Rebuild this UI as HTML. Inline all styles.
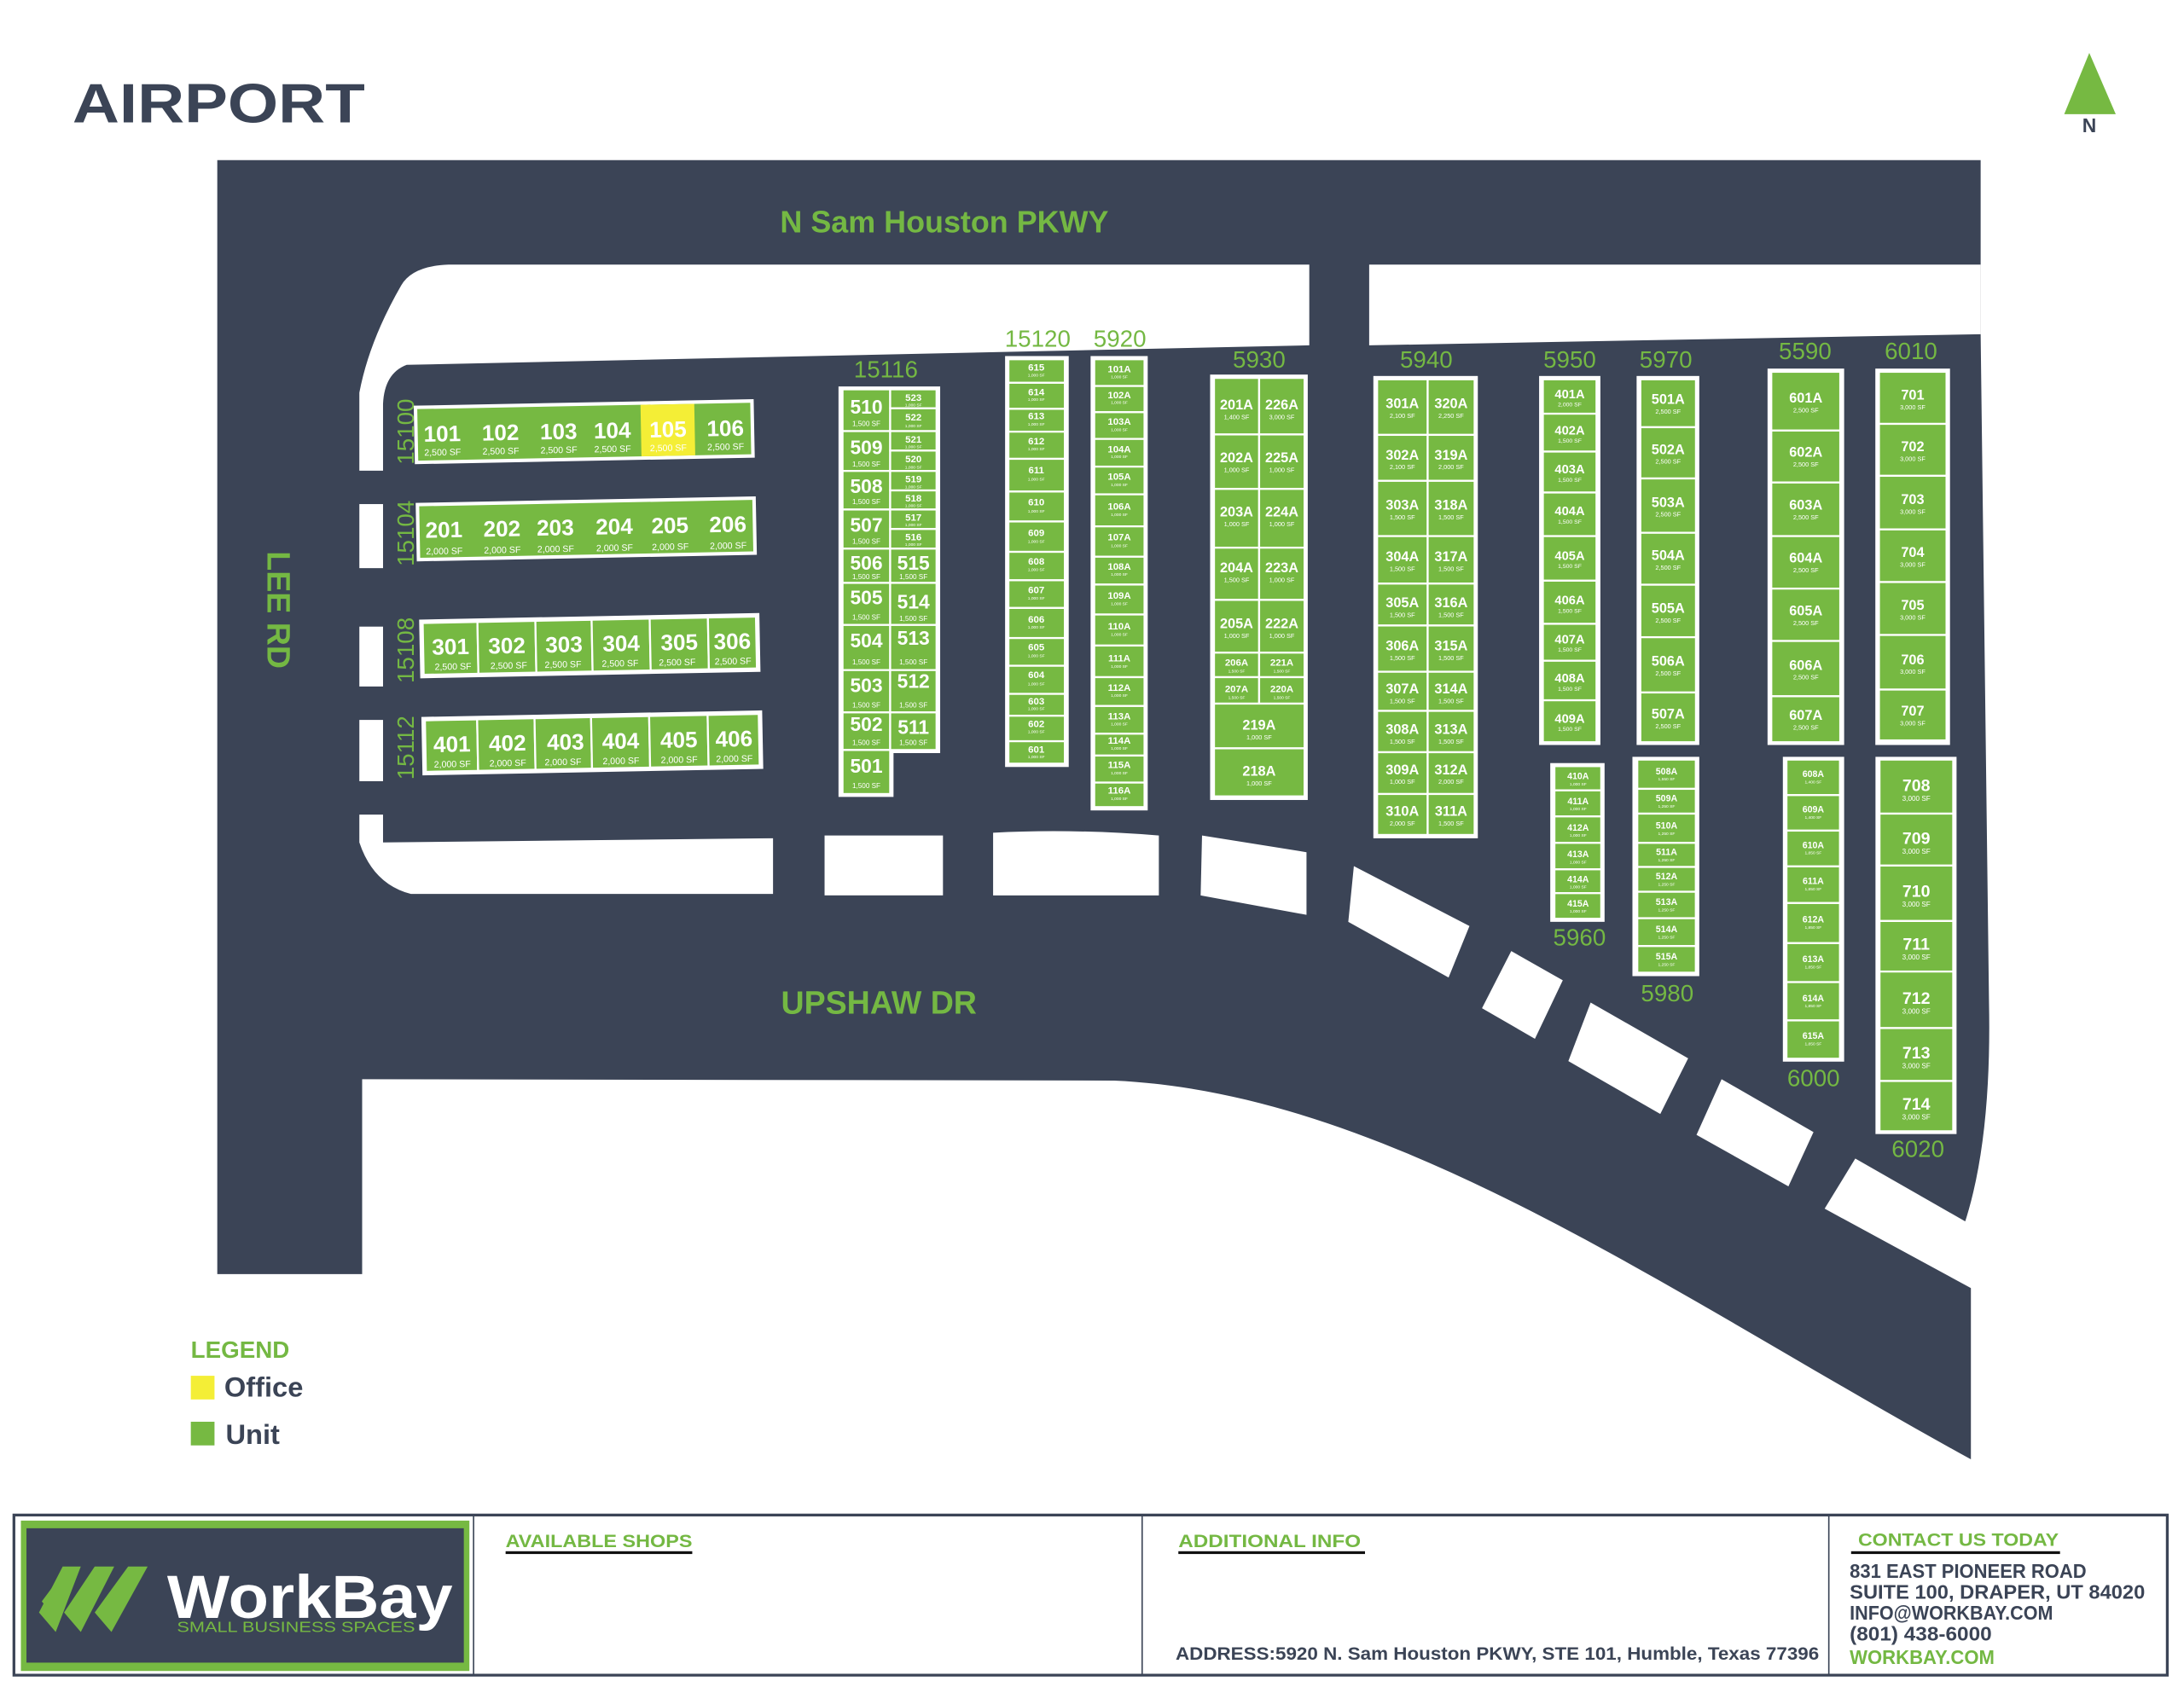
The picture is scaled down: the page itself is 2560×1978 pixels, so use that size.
<!DOCTYPE html>
<html><head><meta charset="utf-8"><style>
html,body{margin:0;padding:0;background:#fff;}
svg{display:block}
.c{fill:#76b942;stroke:#fff;stroke-width:1.4}
.o{fill:#fff}
.n{font-family:"Liberation Sans Narrow","Liberation Sans",sans-serif;font-weight:bold;fill:#fff;text-anchor:middle;font-stretch:condensed}
.s{font-family:"Liberation Sans Narrow","Liberation Sans",sans-serif;fill:#fff;text-anchor:middle;font-stretch:condensed}
.bl{font-family:"Liberation Sans",sans-serif;fill:#74b843;text-anchor:middle}
.f{font-family:"Liberation Sans Narrow","Liberation Sans",sans-serif;font-weight:bold}
</style></head><body>
<svg width="2560" height="1978" viewBox="0 0 1568 1211.5" preserveAspectRatio="none" xmlns="http://www.w3.org/2000/svg">
<rect width="1568" height="1212" fill="#fff"/>
<text x="52" y="88" font-family="Liberation Sans,sans-serif" font-weight="bold" font-size="40" fill="#3b4456" textLength="210" lengthAdjust="spacingAndGlyphs">AIRPORT</text>
<polygon points="1500,38 1519,82 1482,82" fill="#76b942"/>
<text x="1500" y="95" font-family="Liberation Sans,sans-serif" font-weight="bold" font-size="14" fill="#3b4456" text-anchor="middle">N</text>

<!-- dark roads -->
<path d="M156,115 L1422,115 L1422,240 L1428,720 Q1430,820 1410,880 L1415,925 L1415,1048 C1200,930 1000,785 800,776 L260,775 L260,915 L156,915 Z" fill="#3b4456"/>
<path d="M258,338 L258,282 Q265,245 288,205 Q296,191 322,190 L940,190 L940,248 L292,262 Q276,268 275,290 L275,338 Z" class="o"/>
<path d="M983,190 L1422,190 L1422,240 L983,248 Z" class="o"/>
<rect x="258" y="362" width="17" height="46" class="o"/>
<rect x="258" y="450" width="17" height="43" class="o"/>
<rect x="258" y="517" width="17" height="44" class="o"/>
<path d="M258,585 L275,585 L275,605 L555,602 L555,642 L295,642 Q268,635 258,605 Z" class="o"/>
<rect x="592" y="600" width="85" height="43" class="o"/>
<path d="M713,598 Q770,595 832,600 L832,643 L713,643 Z" class="o"/>
<polygon points="863,600 938,612 938,657 862,643" class="o"/>
<polygon points="972,622 1055,665 1040,702 968,662" class="o"/>
<polygon points="1085,683 1122,704 1102,746 1064,724" class="o"/>
<polygon points="1142,720 1212,760 1192,800 1126,762" class="o"/>
<polygon points="1236,775 1302,813 1284,852 1218,815" class="o"/>
<polygon points="1332,832 1430,888 1430,930 1415,925 1310,868" class="o"/>

<text x="678" y="167" font-family="Liberation Sans,sans-serif" font-weight="bold" font-size="22" fill="#74b843" text-anchor="middle">N Sam Houston PKWY</text>
<text x="631" y="728" font-family="Liberation Sans,sans-serif" font-weight="bold" font-size="23" fill="#74b843" text-anchor="middle">UPSHAW DR</text>
<text transform="translate(192,438) rotate(90)" font-family="Liberation Sans,sans-serif" font-weight="bold" font-size="23" fill="#74b843" text-anchor="middle">LEE RD</text>

<g class="bl" font-size="17">
<text transform="translate(297,310) rotate(-90)">15100</text>
<text transform="translate(297,383) rotate(-90)">15104</text>
<text transform="translate(297,467) rotate(-90)">15108</text>
<text transform="translate(297,537) rotate(-90)">15112</text>
<text x="636" y="271">15116</text><text x="745" y="249">15120</text><text x="804" y="249">5920</text>
<text x="904" y="264">5930</text><text x="1024" y="264">5940</text><text x="1127" y="264">5950</text>
<text x="1196" y="264">5970</text><text x="1296" y="258">5590</text><text x="1372" y="258">6010</text>
<text x="1134" y="679">5960</text><text x="1197" y="719">5980</text><text x="1302" y="780">6000</text><text x="1377" y="831">6020</text>
</g>

<!-- Row 100 -->
<g transform="rotate(-1.1 419.5 310)">
<rect x="297.4" y="289" width="244.1" height="42" class="o"/>
<rect x="299.9" y="291.5" width="239.1" height="37" fill="#76b942"/>
<rect x="460.2" y="291.5" width="38.6" height="37" fill="#f4ee36"/>
<g class="n" font-size="16"><text x="317.5" y="315">101</text><text x="359.3" y="315">102</text><text x="401" y="315">103</text><text x="439.6" y="315">104</text><text x="479.6" y="315">105</text><text x="520.8" y="315">106</text></g>
<g class="s" font-size="6.5"><text x="317.5" y="325">2,500 SF</text><text x="359.3" y="325">2,500 SF</text><text x="401" y="325">2,500 SF</text><text x="439.6" y="325">2,500 SF</text><text x="479.6" y="325">2,500 SF</text><text x="520.8" y="325">2,500 SF</text></g>
</g>
<!-- Row 200 -->
<g transform="rotate(-1.1 420.9 379.8)">
<rect x="298.8" y="358.8" width="244.2" height="42" class="o"/>
<rect x="301.3" y="361.3" width="239.2" height="37" fill="#76b942"/>
<g class="n" font-size="16"><text x="318.7" y="384">201</text><text x="360.4" y="384">202</text><text x="398.7" y="384">203</text><text x="441" y="384">204</text><text x="481" y="384">205</text><text x="522.6" y="384">206</text></g>
<g class="s" font-size="6.5"><text x="318.7" y="396">2,000 SF</text><text x="360.4" y="396">2,000 SF</text><text x="398.7" y="396">2,000 SF</text><text x="441" y="396">2,000 SF</text><text x="481" y="396">2,000 SF</text><text x="522.6" y="396">2,000 SF</text></g>
</g>
<!-- Row 300 -->
<g transform="rotate(-1.1 423.5 463.7)">
<rect x="301.3" y="442.6" width="244.3" height="42.2" class="o"/>
<rect x="303.8" y="445.1" width="39.3" height="37.2" class="c"/><rect x="343.1" y="445.1" width="41.6" height="37.2" class="c"/><rect x="384.7" y="445.1" width="40.4" height="37.2" class="c"/><rect x="425.1" y="445.1" width="41.7" height="37.2" class="c"/><rect x="466.8" y="445.1" width="41.8" height="37.2" class="c"/><rect x="508.6" y="445.1" width="34.5" height="37.2" class="c"/>
<g class="n" font-size="16"><text x="323.5" y="468">301</text><text x="363.9" y="468">302</text><text x="404.9" y="468">303</text><text x="446" y="468">304</text><text x="487.7" y="468">305</text><text x="525.8" y="468">306</text></g>
<g class="s" font-size="6.5"><text x="325" y="479">2,500 SF</text><text x="365" y="479">2,500 SF</text><text x="404" y="479">2,500 SF</text><text x="445" y="479">2,500 SF</text><text x="486" y="479">2,500 SF</text><text x="526" y="479">2,500 SF</text></g>
</g>
<!-- Row 400 -->
<g transform="rotate(-1.1 425.2 533.5)">
<rect x="302.9" y="512.5" width="244.7" height="42" class="o"/>
<rect x="305.4" y="515" width="37.5" height="37" class="c"/><rect x="342.9" y="515" width="41.2" height="37" class="c"/><rect x="384.1" y="515" width="40.6" height="37" class="c"/><rect x="424.7" y="515" width="41.7" height="37" class="c"/><rect x="466.4" y="515" width="42" height="37" class="c"/><rect x="508.4" y="515" width="36.7" height="37" class="c"/>
<g class="n" font-size="16"><text x="324.5" y="538">401</text><text x="364.3" y="538">402</text><text x="406" y="538">403</text><text x="445.6" y="538">404</text><text x="487.4" y="538">405</text><text x="527" y="538">406</text></g>
<g class="s" font-size="6.5"><text x="324.5" y="549">2,000 SF</text><text x="364.3" y="549">2,000 SF</text><text x="404" y="549">2,000 SF</text><text x="445.6" y="549">2,000 SF</text><text x="487.4" y="549">2,000 SF</text><text x="527" y="549">2,000 SF</text></g>
</g>

<!-- 15116 -->
<polygon points="602,277.5 675,277.5 675,540.8 641.5,540.8 641.5,572.3 602,572.3" class="o"/>
<g>
<rect x="604.9" y="279.6" width="34.2" height="30" class="c"/><rect x="604.9" y="309.6" width="34.2" height="28.6" class="c"/><rect x="604.9" y="338.2" width="34.2" height="27.7" class="c"/><rect x="604.9" y="365.9" width="34.2" height="28.1" class="c"/><rect x="604.9" y="394" width="34.2" height="24.6" class="c"/><rect x="604.9" y="418.6" width="34.2" height="30.2" class="c"/><rect x="604.9" y="448.8" width="34.2" height="32.4" class="c"/><rect x="604.9" y="481.2" width="34.2" height="30.4" class="c"/><rect x="604.9" y="511.6" width="34.2" height="27" class="c"/><rect x="604.9" y="538.6" width="34.2" height="31.6" class="c"/>
<rect x="639.1" y="279.6" width="33.3" height="13.6" class="c"/><rect x="639.1" y="293.2" width="33.3" height="16.4" class="c"/><rect x="639.1" y="309.6" width="33.3" height="14" class="c"/><rect x="639.1" y="323.6" width="33.3" height="14.6" class="c"/><rect x="639.1" y="338.2" width="33.3" height="14" class="c"/><rect x="639.1" y="352.2" width="33.3" height="13.7" class="c"/><rect x="639.1" y="365.9" width="33.3" height="14" class="c"/><rect x="639.1" y="379.9" width="33.3" height="14.1" class="c"/><rect x="639.1" y="394" width="33.3" height="24.6" class="c"/><rect x="639.1" y="418.6" width="33.3" height="30.2" class="c"/><rect x="639.1" y="448.8" width="33.3" height="32.4" class="c"/><rect x="639.1" y="481.2" width="33.3" height="30.4" class="c"/><rect x="639.1" y="511.6" width="33.3" height="27" class="c"/>
</g>
<g class="n" font-size="14"><text x="622" y="297">510</text><text x="622" y="326">509</text><text x="622" y="354">508</text><text x="622" y="382">507</text><text x="622" y="409">506</text><text x="622" y="434">505</text><text x="622" y="465">504</text><text x="622" y="497">503</text><text x="622" y="525">502</text><text x="622" y="555">501</text>
<text x="655.8" y="409">515</text><text x="655.8" y="437">514</text><text x="655.8" y="463">513</text><text x="655.8" y="494">512</text><text x="655.8" y="527">511</text></g>
<g class="s" font-size="5"><text x="622" y="306">1,500 SF</text><text x="622" y="335">1,500 SF</text><text x="622" y="362">1,500 SF</text><text x="622" y="390.5">1,500 SF</text><text x="622" y="416">1,500 SF</text><text x="622" y="445">1,500 SF</text><text x="622" y="477">1,500 SF</text><text x="622" y="508">1,500 SF</text><text x="622" y="535">1,500 SF</text><text x="622" y="566">1,500 SF</text>
<text x="655.8" y="416">1,500 SF</text><text x="655.8" y="446">1,500 SF</text><text x="655.8" y="477">1,500 SF</text><text x="655.8" y="508">1,500 SF</text><text x="655.8" y="535">1,500 SF</text></g>
<g class="n" font-size="7"><text x="655.8" y="288">523</text><text x="655.8" y="302">522</text><text x="655.8" y="318">521</text><text x="655.8" y="332">520</text><text x="655.8" y="346.5">519</text><text x="655.8" y="360">518</text><text x="655.8" y="374">517</text><text x="655.8" y="388">516</text></g>
<g class="s" font-size="3"><text x="655.8" y="292">1,000 SF</text><text x="655.8" y="307">1,000 SF</text><text x="655.8" y="322">1,000 SF</text><text x="655.8" y="336.5">1,000 SF</text><text x="655.8" y="350.5">1,000 SF</text><text x="655.8" y="364">1,000 SF</text><text x="655.8" y="378">1,000 SF</text><text x="655.8" y="392">1,000 SF</text></g>

<!-- 15120 -->
<rect x="721.6" y="255.7" width="45.7" height="295.1" class="o"/>
<g>
<rect x="724" y="258" width="40.5" height="16.9" class="c"/><rect x="724" y="274.9" width="40.5" height="18.7" class="c"/><rect x="724" y="293.6" width="40.5" height="16.4" class="c"/><rect x="724" y="310" width="40.5" height="19.5" class="c"/><rect x="724" y="329.5" width="40.5" height="23.5" class="c"/><rect x="724" y="353" width="40.5" height="21.5" class="c"/><rect x="724" y="374.5" width="40.5" height="21.8" class="c"/><rect x="724" y="396.3" width="40.5" height="20.4" class="c"/><rect x="724" y="416.7" width="40.5" height="19.9" class="c"/><rect x="724" y="436.6" width="40.5" height="21.6" class="c"/><rect x="724" y="458.2" width="40.5" height="19.9" class="c"/><rect x="724" y="478.1" width="40.5" height="20.2" class="c"/><rect x="724" y="498.3" width="40.5" height="15.7" class="c"/><rect x="724" y="514" width="40.5" height="18.3" class="c"/><rect x="724" y="532.3" width="40.5" height="16.1" class="c"/>
</g>
<g class="n" font-size="7"><text x="744" y="266">615</text><text x="744" y="284">614</text><text x="744" y="301">613</text><text x="744" y="319">612</text><text x="744" y="340">611</text><text x="744" y="363">610</text><text x="744" y="385">609</text><text x="744" y="405.5">608</text><text x="744" y="426">607</text><text x="744" y="447">606</text><text x="744" y="467">605</text><text x="744" y="487">604</text><text x="744" y="506">603</text><text x="744" y="522">602</text><text x="744" y="540.5">601</text></g>
<g class="s" font-size="3"><text x="744" y="270.5">1,000 SF</text><text x="744" y="288">1,000 SF</text><text x="744" y="305.5">1,000 SF</text><text x="744" y="323.5">1,000 SF</text><text x="744" y="345">1,000 SF</text><text x="744" y="368">1,000 SF</text><text x="744" y="390">1,000 SF</text><text x="744" y="410">1,000 SF</text><text x="744" y="430.5">1,000 SF</text><text x="744" y="451.5">1,000 SF</text><text x="744" y="472">1,000 SF</text><text x="744" y="492">1,000 SF</text><text x="744" y="510">1,000 SF</text><text x="744" y="526.5">1,000 SF</text><text x="744" y="544.5">1,000 SF</text></g>

<!-- 5920 -->
<rect x="783" y="255.7" width="41" height="326.3" class="o"/>
<g>
<rect x="785.6" y="258" width="36.1" height="19.2" class="c"/><rect x="785.6" y="277.2" width="36.1" height="18.8" class="c"/><rect x="785.6" y="296" width="36.1" height="19.2" class="c"/><rect x="785.6" y="315.2" width="36.1" height="19.9" class="c"/><rect x="785.6" y="335.1" width="36.1" height="19.9" class="c"/><rect x="785.6" y="355" width="36.1" height="23" class="c"/><rect x="785.6" y="378" width="36.1" height="21.8" class="c"/><rect x="785.6" y="399.8" width="36.1" height="20" class="c"/><rect x="785.6" y="419.8" width="36.1" height="21.5" class="c"/><rect x="785.6" y="441.3" width="36.1" height="22.3" class="c"/><rect x="785.6" y="463.6" width="36.1" height="22.7" class="c"/><rect x="785.6" y="486.3" width="36.1" height="20.7" class="c"/><rect x="785.6" y="507" width="36.1" height="19.9" class="c"/><rect x="785.6" y="526.9" width="36.1" height="15.7" class="c"/><rect x="785.6" y="542.6" width="36.1" height="19.4" class="c"/><rect x="785.6" y="562" width="36.1" height="17.6" class="c"/>
</g>
<g class="n" font-size="7"><text x="803.6" y="267.5">101A</text><text x="803.6" y="286">102A</text><text x="803.6" y="305">103A</text><text x="803.6" y="325">104A</text><text x="803.6" y="344.5">105A</text><text x="803.6" y="366">106A</text><text x="803.6" y="388">107A</text><text x="803.6" y="409">108A</text><text x="803.6" y="430">109A</text><text x="803.6" y="452">110A</text><text x="803.6" y="475">111A</text><text x="803.6" y="496">112A</text><text x="803.6" y="516.5">113A</text><text x="803.6" y="534">114A</text><text x="803.6" y="551.5">115A</text><text x="803.6" y="570">116A</text></g>
<g class="s" font-size="3"><text x="803.6" y="271.5">1,000 SF</text><text x="803.6" y="290">1,000 SF</text><text x="803.6" y="309.5">1,000 SF</text><text x="803.6" y="329">1,000 SF</text><text x="803.6" y="349">1,000 SF</text><text x="803.6" y="370.5">1,000 SF</text><text x="803.6" y="393">1,000 SF</text><text x="803.6" y="413.5">1,000 SF</text><text x="803.6" y="434.5">1,000 SF</text><text x="803.6" y="456.5">1,000 SF</text><text x="803.6" y="479.5">1,000 SF</text><text x="803.6" y="500.5">1,000 SF</text><text x="803.6" y="521">1,000 SF</text><text x="803.6" y="538.5">1,000 SF</text><text x="803.6" y="556">1,000 SF</text><text x="803.6" y="574.5">1,000 SF</text></g>

<!-- 5930 -->
<rect x="868.8" y="269" width="70.1" height="305.5" class="o"/>
<g>
<rect x="871.6" y="271.4" width="32.4" height="40.6" class="c"/><rect x="904" y="271.4" width="32.6" height="40.6" class="c"/>
<rect x="871.6" y="312" width="32.4" height="39.1" class="c"/><rect x="904" y="312" width="32.6" height="39.1" class="c"/>
<rect x="871.6" y="351.1" width="32.4" height="42.2" class="c"/><rect x="904" y="351.1" width="32.6" height="42.2" class="c"/>
<rect x="871.6" y="393.3" width="32.4" height="37.5" class="c"/><rect x="904" y="393.3" width="32.6" height="37.5" class="c"/>
<rect x="871.6" y="430.8" width="32.4" height="37.9" class="c"/><rect x="904" y="430.8" width="32.6" height="37.9" class="c"/>
<rect x="871.6" y="468.7" width="32.4" height="17.6" class="c"/><rect x="904" y="468.7" width="32.6" height="17.6" class="c"/>
<rect x="871.6" y="486.3" width="32.4" height="19" class="c"/><rect x="904" y="486.3" width="32.6" height="19" class="c"/>
<rect x="871.6" y="505.3" width="65" height="32.1" class="c"/><rect x="871.6" y="537.4" width="65" height="34.5" class="c"/>
</g>
<g class="n" font-size="10"><text x="887.8" y="294">201A</text><text x="920.3" y="294">226A</text><text x="887.8" y="332">202A</text><text x="920.3" y="332">225A</text><text x="887.8" y="371">203A</text><text x="920.3" y="371">224A</text><text x="887.8" y="411">204A</text><text x="920.3" y="411">223A</text><text x="887.8" y="451">205A</text><text x="920.3" y="451">222A</text><text x="904" y="524">219A</text><text x="904" y="557">218A</text></g>
<g class="s" font-size="4.5"><text x="887.8" y="301">1,400 SF</text><text x="920.3" y="301">3,000 SF</text><text x="887.8" y="339">1,000 SF</text><text x="920.3" y="339">1,000 SF</text><text x="887.8" y="378">1,000 SF</text><text x="920.3" y="378">1,000 SF</text><text x="887.8" y="418">1,500 SF</text><text x="920.3" y="418">1,000 SF</text><text x="887.8" y="458">1,000 SF</text><text x="920.3" y="458">1,000 SF</text><text x="904" y="531">1,000 SF</text><text x="904" y="564">1,000 SF</text></g>
<g class="n" font-size="7"><text x="887.8" y="478">206A</text><text x="920.3" y="478">221A</text><text x="887.8" y="497">207A</text><text x="920.3" y="497">220A</text></g>
<g class="s" font-size="3"><text x="887.8" y="483">1,500 SF</text><text x="920.3" y="483">1,500 SF</text><text x="887.8" y="502">1,500 SF</text><text x="920.3" y="502">1,500 SF</text></g>

<!-- 5940 -->
<rect x="986" y="270" width="75" height="332" class="o"/>
<g>
<rect x="988.7" y="272.4" width="36.3" height="39.9" class="c"/><rect x="1025" y="272.4" width="33.7" height="39.9" class="c"/>
<rect x="988.7" y="312.3" width="36.3" height="33" class="c"/><rect x="1025" y="312.3" width="33.7" height="33" class="c"/>
<rect x="988.7" y="345.3" width="36.3" height="39.7" class="c"/><rect x="1025" y="345.3" width="33.7" height="39.7" class="c"/>
<rect x="988.7" y="385" width="36.3" height="34.1" class="c"/><rect x="1025" y="385" width="33.7" height="34.1" class="c"/>
<rect x="988.7" y="419.1" width="36.3" height="30.1" class="c"/><rect x="1025" y="419.1" width="33.7" height="30.1" class="c"/>
<rect x="988.7" y="449.2" width="36.3" height="33.2" class="c"/><rect x="1025" y="449.2" width="33.7" height="33.2" class="c"/>
<rect x="988.7" y="482.4" width="36.3" height="28.1" class="c"/><rect x="1025" y="482.4" width="33.7" height="28.1" class="c"/>
<rect x="988.7" y="510.5" width="36.3" height="29.7" class="c"/><rect x="1025" y="510.5" width="33.7" height="29.7" class="c"/>
<rect x="988.7" y="540.2" width="36.3" height="30" class="c"/><rect x="1025" y="540.2" width="33.7" height="30" class="c"/>
<rect x="988.7" y="570.2" width="36.3" height="29.4" class="c"/><rect x="1025" y="570.2" width="33.7" height="29.4" class="c"/>
</g>
<g class="n" font-size="10"><text x="1006.8" y="293">301A</text><text x="1041.8" y="293">320A</text><text x="1006.8" y="330">302A</text><text x="1041.8" y="330">319A</text><text x="1006.8" y="366">303A</text><text x="1041.8" y="366">318A</text><text x="1006.8" y="403">304A</text><text x="1041.8" y="403">317A</text><text x="1006.8" y="436">305A</text><text x="1041.8" y="436">316A</text><text x="1006.8" y="467">306A</text><text x="1041.8" y="467">315A</text><text x="1006.8" y="498">307A</text><text x="1041.8" y="498">314A</text><text x="1006.8" y="527">308A</text><text x="1041.8" y="527">313A</text><text x="1006.8" y="556">309A</text><text x="1041.8" y="556">312A</text><text x="1006.8" y="586">310A</text><text x="1041.8" y="586">311A</text></g>
<g class="s" font-size="4.5"><text x="1006.8" y="300">2,100 SF</text><text x="1041.8" y="300">2,250 SF</text><text x="1006.8" y="337">2,100 SF</text><text x="1041.8" y="337">2,000 SF</text><text x="1006.8" y="373">1,500 SF</text><text x="1041.8" y="373">1,500 SF</text><text x="1006.8" y="410">1,500 SF</text><text x="1041.8" y="410">1,500 SF</text><text x="1006.8" y="443">1,500 SF</text><text x="1041.8" y="443">1,500 SF</text><text x="1006.8" y="474">1,500 SF</text><text x="1041.8" y="474">1,500 SF</text><text x="1006.8" y="505">1,500 SF</text><text x="1041.8" y="505">1,500 SF</text><text x="1006.8" y="534">1,500 SF</text><text x="1041.8" y="534">1,500 SF</text><text x="1006.8" y="563">1,000 SF</text><text x="1041.8" y="563">2,000 SF</text><text x="1006.8" y="593">2,000 SF</text><text x="1041.8" y="593">1,500 SF</text></g>

<!-- 5950 -->
<rect x="1105" y="270" width="44" height="265" class="o"/>
<g>
<rect x="1107.7" y="272.4" width="38.5" height="24.7" class="c"/><rect x="1107.7" y="297.1" width="38.5" height="27.2" class="c"/><rect x="1107.7" y="324.3" width="38.5" height="29.4" class="c"/><rect x="1107.7" y="353.7" width="38.5" height="31.3" class="c"/><rect x="1107.7" y="385" width="38.5" height="32" class="c"/><rect x="1107.7" y="417" width="38.5" height="31" class="c"/><rect x="1107.7" y="448" width="38.5" height="26.5" class="c"/><rect x="1107.7" y="474.5" width="38.5" height="28.4" class="c"/><rect x="1107.7" y="502.9" width="38.5" height="30.1" class="c"/>
</g>
<g class="n" font-size="9"><text x="1127" y="286">401A</text><text x="1127" y="312">402A</text><text x="1127" y="340">403A</text><text x="1127" y="370">404A</text><text x="1127" y="402">405A</text><text x="1127" y="434">406A</text><text x="1127" y="462">407A</text><text x="1127" y="490">408A</text><text x="1127" y="519">409A</text></g>
<g class="s" font-size="4.2"><text x="1127" y="292">2,000 SF</text><text x="1127" y="318">1,500 SF</text><text x="1127" y="346">1,500 SF</text><text x="1127" y="376">1,500 SF</text><text x="1127" y="408">1,500 SF</text><text x="1127" y="440">1,500 SF</text><text x="1127" y="468">1,500 SF</text><text x="1127" y="496">1,500 SF</text><text x="1127" y="525">1,500 SF</text></g>

<!-- 5970 -->
<rect x="1175" y="270" width="45" height="265" class="o"/>
<g>
<rect x="1177.7" y="272.4" width="39.9" height="34.4" class="c"/><rect x="1177.7" y="306.8" width="39.9" height="36.8" class="c"/><rect x="1177.7" y="343.6" width="39.9" height="39" class="c"/><rect x="1177.7" y="382.6" width="39.9" height="37.3" class="c"/><rect x="1177.7" y="419.9" width="39.9" height="37.7" class="c"/><rect x="1177.7" y="457.6" width="39.9" height="39.7" class="c"/><rect x="1177.7" y="497.3" width="39.9" height="35.7" class="c"/>
</g>
<g class="n" font-size="10"><text x="1197.6" y="290">501A</text><text x="1197.6" y="326">502A</text><text x="1197.6" y="364">503A</text><text x="1197.6" y="402">504A</text><text x="1197.6" y="440">505A</text><text x="1197.6" y="478">506A</text><text x="1197.6" y="516">507A</text></g>
<g class="s" font-size="4.5"><text x="1197.6" y="297">2,500 SF</text><text x="1197.6" y="333">2,500 SF</text><text x="1197.6" y="371">2,500 SF</text><text x="1197.6" y="409">2,500 SF</text><text x="1197.6" y="447">2,500 SF</text><text x="1197.6" y="485">2,500 SF</text><text x="1197.6" y="523">2,500 SF</text></g>

<!-- 5590 -->
<rect x="1269" y="264.7" width="55" height="270.3" class="o"/>
<g>
<rect x="1271.7" y="267" width="49.5" height="42.2" class="c"/><rect x="1271.7" y="309.2" width="49.5" height="37.3" class="c"/><rect x="1271.7" y="346.5" width="49.5" height="38.5" class="c"/><rect x="1271.7" y="385" width="49.5" height="37.7" class="c"/><rect x="1271.7" y="422.7" width="49.5" height="37.6" class="c"/><rect x="1271.7" y="460.3" width="49.5" height="39.7" class="c"/><rect x="1271.7" y="500" width="49.5" height="33" class="c"/>
</g>
<g class="n" font-size="10"><text x="1296.5" y="289">601A</text><text x="1296.5" y="328">602A</text><text x="1296.5" y="366">603A</text><text x="1296.5" y="404">604A</text><text x="1296.5" y="442">605A</text><text x="1296.5" y="481">606A</text><text x="1296.5" y="517">607A</text></g>
<g class="s" font-size="4.5"><text x="1296.5" y="296">2,500 SF</text><text x="1296.5" y="335">2,500 SF</text><text x="1296.5" y="373">2,500 SF</text><text x="1296.5" y="411">2,500 SF</text><text x="1296.5" y="449">2,500 SF</text><text x="1296.5" y="488">2,500 SF</text><text x="1296.5" y="524">2,500 SF</text></g>

<!-- 6010 -->
<rect x="1346.4" y="264.7" width="53.6" height="270.3" class="o"/>
<g>
<rect x="1349" y="267" width="48.5" height="37.4" class="c"/><rect x="1349" y="304.4" width="48.5" height="37.3" class="c"/><rect x="1349" y="341.7" width="48.5" height="38.5" class="c"/><rect x="1349" y="380.2" width="48.5" height="37.8" class="c"/><rect x="1349" y="418" width="48.5" height="38" class="c"/><rect x="1349" y="456" width="48.5" height="39.2" class="c"/><rect x="1349" y="495.2" width="48.5" height="36.5" class="c"/>
</g>
<g class="n" font-size="10"><text x="1373.2" y="287">701</text><text x="1373.2" y="324">702</text><text x="1373.2" y="362">703</text><text x="1373.2" y="400">704</text><text x="1373.2" y="438">705</text><text x="1373.2" y="477">706</text><text x="1373.2" y="514">707</text></g>
<g class="s" font-size="4.5"><text x="1373.2" y="294">3,000 SF</text><text x="1373.2" y="331">3,000 SF</text><text x="1373.2" y="369">3,000 SF</text><text x="1373.2" y="407">3,000 SF</text><text x="1373.2" y="445">3,000 SF</text><text x="1373.2" y="484">3,000 SF</text><text x="1373.2" y="521">3,000 SF</text></g>

<!-- 5960 -->
<rect x="1113" y="548" width="39" height="114" class="o"/>
<g>
<rect x="1116" y="550.2" width="33.6" height="17.4" class="c"/><rect x="1116" y="567.6" width="33.6" height="18.7" class="c"/><rect x="1116" y="586.3" width="33.6" height="19" class="c"/><rect x="1116" y="605.3" width="33.6" height="19" class="c"/><rect x="1116" y="624.3" width="33.6" height="17.1" class="c"/><rect x="1116" y="641.4" width="33.6" height="18.4" class="c"/>
</g>
<g class="n" font-size="6.5"><text x="1133" y="559.5">410A</text><text x="1133" y="577.5">411A</text><text x="1133" y="596.5">412A</text><text x="1133" y="615.5">413A</text><text x="1133" y="633.5">414A</text><text x="1133" y="651">415A</text></g>
<g class="s" font-size="3"><text x="1133" y="564">1,000 SF</text><text x="1133" y="582">1,000 SF</text><text x="1133" y="601">1,000 SF</text><text x="1133" y="620">1,000 SF</text><text x="1133" y="638">1,000 SF</text><text x="1133" y="655.5">1,000 SF</text></g>

<!-- 5980 -->
<rect x="1172" y="543.5" width="48" height="157.5" class="o"/>
<g>
<rect x="1175.5" y="545.5" width="42" height="21" class="c"/><rect x="1175.5" y="566.5" width="42" height="17.8" class="c"/><rect x="1175.5" y="584.3" width="42" height="21" class="c"/><rect x="1175.5" y="605.3" width="42" height="17.3" class="c"/><rect x="1175.5" y="622.6" width="42" height="17.8" class="c"/><rect x="1175.5" y="640.4" width="42" height="19" class="c"/><rect x="1175.5" y="659.4" width="42" height="20" class="c"/><rect x="1175.5" y="679.4" width="42" height="19.1" class="c"/>
</g>
<g class="n" font-size="6.5"><text x="1196.5" y="556">508A</text><text x="1196.5" y="575.5">509A</text><text x="1196.5" y="595">510A</text><text x="1196.5" y="614">511A</text><text x="1196.5" y="631.5">512A</text><text x="1196.5" y="650">513A</text><text x="1196.5" y="669.5">514A</text><text x="1196.5" y="689">515A</text></g>
<g class="s" font-size="3"><text x="1196.5" y="560.5">1,550 SF</text><text x="1196.5" y="580">1,250 SF</text><text x="1196.5" y="599.5">1,250 SF</text><text x="1196.5" y="618.5">1,250 SF</text><text x="1196.5" y="636">1,250 SF</text><text x="1196.5" y="654.5">1,250 SF</text><text x="1196.5" y="674">1,250 SF</text><text x="1196.5" y="693.5">1,250 SF</text></g>

<!-- 6000 -->
<rect x="1280" y="543.5" width="44" height="218.9" class="o"/>
<g>
<rect x="1282.6" y="545.5" width="38.4" height="25.5" class="c"/><rect x="1282.6" y="571" width="38.4" height="25.5" class="c"/><rect x="1282.6" y="596.5" width="38.4" height="25.7" class="c"/><rect x="1282.6" y="622.2" width="38.4" height="26.3" class="c"/><rect x="1282.6" y="648.5" width="38.4" height="28.8" class="c"/><rect x="1282.6" y="677.3" width="38.4" height="28" class="c"/><rect x="1282.6" y="705.3" width="38.4" height="27.5" class="c"/><rect x="1282.6" y="732.8" width="38.4" height="27.5" class="c"/>
</g>
<g class="n" font-size="6.5"><text x="1301.8" y="558">608A</text><text x="1301.8" y="583.5">609A</text><text x="1301.8" y="609">610A</text><text x="1301.8" y="635">611A</text><text x="1301.8" y="662.5">612A</text><text x="1301.8" y="691">613A</text><text x="1301.8" y="719">614A</text><text x="1301.8" y="746">615A</text></g>
<g class="s" font-size="3"><text x="1301.8" y="562.5">1,400 SF</text><text x="1301.8" y="588">1,400 SF</text><text x="1301.8" y="613.5">1,850 SF</text><text x="1301.8" y="639.5">1,850 SF</text><text x="1301.8" y="667">1,850 SF</text><text x="1301.8" y="695.5">1,850 SF</text><text x="1301.8" y="723.5">1,850 SF</text><text x="1301.8" y="750.5">1,850 SF</text></g>

<!-- 6020 -->
<rect x="1346.5" y="543.5" width="58.2" height="270.9" class="o"/>
<g>
<rect x="1349.4" y="545.5" width="52.9" height="38.8" class="c"/><rect x="1349.4" y="584.3" width="52.9" height="37.3" class="c"/><rect x="1349.4" y="621.6" width="52.9" height="39.8" class="c"/><rect x="1349.4" y="661.4" width="52.9" height="36.3" class="c"/><rect x="1349.4" y="697.7" width="52.9" height="40.6" class="c"/><rect x="1349.4" y="738.3" width="52.9" height="38" class="c"/><rect x="1349.4" y="776.3" width="52.9" height="36.1" class="c"/>
</g>
<g class="n" font-size="12"><text x="1375.8" y="568">708</text><text x="1375.8" y="606">709</text><text x="1375.8" y="644">710</text><text x="1375.8" y="682">711</text><text x="1375.8" y="721">712</text><text x="1375.8" y="760">713</text><text x="1375.8" y="797">714</text></g>
<g class="s" font-size="5"><text x="1375.8" y="575">3,000 SF</text><text x="1375.8" y="613">3,000 SF</text><text x="1375.8" y="651">3,000 SF</text><text x="1375.8" y="689">3,000 SF</text><text x="1375.8" y="728">3,000 SF</text><text x="1375.8" y="767">3,000 SF</text><text x="1375.8" y="804">3,000 SF</text></g>

<!-- Legend -->
<text x="137" y="975" font-family="Liberation Sans,sans-serif" font-weight="bold" font-size="17" fill="#74b843">LEGEND</text>
<rect x="137" y="988" width="17" height="17" fill="#f4ee36"/>
<text x="161" y="1003" class="f" font-size="20" fill="#3b4456">Office</text>
<rect x="137" y="1021" width="17" height="17" fill="#76b942"/>
<text x="162" y="1037" class="f" font-size="20" fill="#3b4456">Unit</text>

<!-- Footer -->
<rect x="10" y="1088" width="1546" height="115" fill="#fff" stroke="#3b4456" stroke-width="2"/>
<line x1="340" y1="1088" x2="340" y2="1203" stroke="#3b4456" stroke-width="1"/>
<line x1="820" y1="1088" x2="820" y2="1203" stroke="#3b4456" stroke-width="1"/>
<line x1="1313" y1="1088" x2="1313" y2="1203" stroke="#3b4456" stroke-width="1"/>
<rect x="15" y="1092" width="322" height="108" fill="#76b942"/>
<rect x="19" y="1097.5" width="314" height="96.5" fill="#3b4456"/>
<g fill="#76b942">
<polygon points="45,1125 58,1125 40,1172 28,1158"/>
<polygon points="68,1125 82,1125 58,1172 46,1158"/>
<polygon points="92,1125 106,1125 80,1172 68,1158"/>
<polygon points="30,1150 45,1130 52,1138 38,1160"/>
</g>
<text x="120" y="1162" font-family="Liberation Sans,sans-serif" font-weight="bold" font-size="44" fill="#fff" textLength="205" lengthAdjust="spacingAndGlyphs">WorkBay</text>
<text x="127" y="1172" font-family="Liberation Sans,sans-serif" font-size="11" fill="#76b942" textLength="171" lengthAdjust="spacingAndGlyphs">SMALL BUSINESS SPACES</text>
<g class="f" font-size="13" fill="#74b843">
<text x="363" y="1111" textLength="134" lengthAdjust="spacingAndGlyphs">AVAILABLE SHOPS</text>
<text x="846" y="1111" textLength="131" lengthAdjust="spacingAndGlyphs">ADDITIONAL INFO</text>
<text x="1334" y="1110" textLength="144" lengthAdjust="spacingAndGlyphs">CONTACT US TODAY</text>
</g>
<rect x="363" y="1114" width="134" height="2" fill="#111"/>
<rect x="846" y="1114" width="134" height="2" fill="#111"/>
<rect x="1329" y="1114" width="150" height="2" fill="#111"/>
<g class="f" font-size="14" fill="#3b4456">
<text x="1328" y="1133" textLength="170" lengthAdjust="spacingAndGlyphs">831 EAST PIONEER ROAD</text>
<text x="1328" y="1148" textLength="212" lengthAdjust="spacingAndGlyphs">SUITE 100, DRAPER, UT 84020</text>
<text x="1328" y="1163" textLength="146" lengthAdjust="spacingAndGlyphs">INFO@WORKBAY.COM</text>
<text x="1328" y="1178" textLength="102" lengthAdjust="spacingAndGlyphs">(801) 438-6000</text>
<text x="844" y="1192" font-size="13" textLength="462" lengthAdjust="spacingAndGlyphs">ADDRESS:5920 N. Sam Houston PKWY, STE 101, Humble, Texas 77396</text>
</g>
<text x="1328" y="1195" class="f" font-size="14" fill="#74b843" textLength="104" lengthAdjust="spacingAndGlyphs">WORKBAY.COM</text>
</svg>
</body></html>
